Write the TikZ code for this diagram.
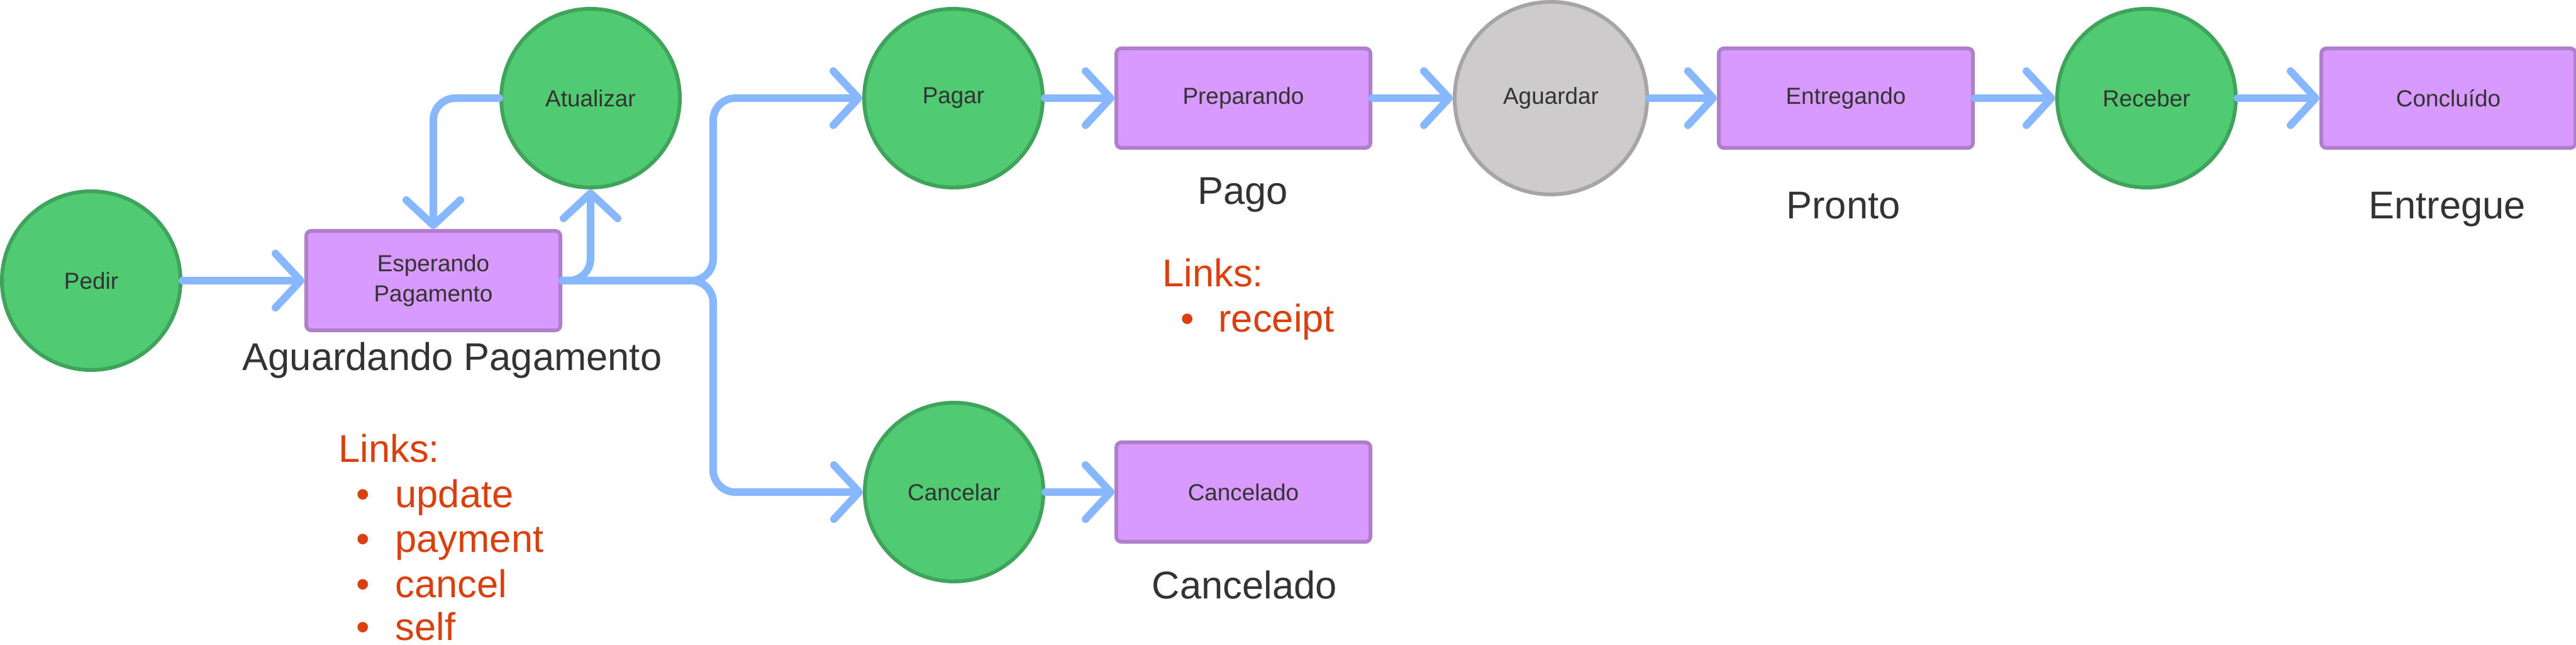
\documentclass[tikz,border=0pt]{standalone}
\usepackage{fontspec}
\setmainfont{Liberation Sans}
\usepackage{tikz}
\usetikzlibrary{arrows.meta}
\definecolor{stategreen}{HTML}{50CB72}
\definecolor{stategreenline}{HTML}{3FA35B}
\definecolor{boxpurple}{HTML}{D89AFE}
\definecolor{boxpurpleline}{HTML}{B07FCC}
\definecolor{waitgray}{HTML}{CDCBCC}
\definecolor{waitgrayline}{HTML}{A6A5A6}
\definecolor{flowblue}{HTML}{87B7FE}
\definecolor{inktext}{HTML}{333333}
\definecolor{linkred}{HTML}{D9400E}
\begin{document}
\begin{tikzpicture}[
    event/.style={circle,fill=stategreen,draw=stategreenline,line width=0.06cm,minimum size=2.84cm,inner sep=0pt,text=inktext,font=\fontsize{10.5pt}{13.4pt}\selectfont},
    waitevent/.style={event,fill=waitgray,draw=waitgrayline,minimum size=3.06cm},
    statebox/.style={rectangle,rounded corners=0.08cm,fill=boxpurple,draw=boxpurpleline,line width=0.06cm,minimum width=4.04cm,minimum height=1.58cm,inner sep=0pt,align=center,text=inktext,font=\fontsize{10.5pt}{13.4pt}\selectfont},
    flow/.style={draw=flowblue,line width=0.12cm,line cap=round,rounded corners=0.35cm,-{Straight Barb[length=0.4cm,width=0.86cm,round]}},
    groupname/.style={anchor=base,text=inktext,font=\fontsize{17.5pt}{21pt}\selectfont},
    linktext/.style={anchor=base west,text=linkred,font=\fontsize{17.5pt}{21pt}\selectfont}]
                \useasboundingbox (0,0) rectangle (40.96,10.25);
                % states and events
                \node[event] (pedir) at (1.45,5.79) {Pedir};
                \node[statebox] (esperando) at (6.89,5.79) {Esperando\\Pagamento};
                \node[event] (atualizar) at (9.39,8.69) {Atualizar};
                \node[event] (pagar) at (15.16,8.69) {Pagar};
                \node[statebox] (preparando) at (19.77,8.69) {Preparando};
                \node[waitevent] (aguardar) at (24.66,8.69) {Aguardar};
                \node[statebox] (entregando) at (29.35,8.69) {Entregando};
                \node[event] (receber) at (34.13,8.69) {Receber};
                \node[statebox] (concluido) at (38.93,8.69) {Concluído};
                \node[event] (cancelar) at (15.17,2.43) {Cancelar};
                \node[statebox] (cancelado) at (19.77,2.43) {Cancelado};
                \coordinate (split) at (11.34,5.79);
                % group names
                \node[groupname] (gaguardando) at (7.19,4.36) {Aguardando Pagamento};
                \node[groupname] (gpago) at (19.76,7.00) {Pago};
                \node[groupname] (gpronto) at (29.31,6.77) {Pronto};
                \node[groupname] (gentregue) at (38.91,6.77) {Entregue};
                \node[groupname] (gcancelado) at (19.79,0.73) {Cancelado};
                % links
                \node[linktext] (links1) at (5.26,2.90) {Links:};
                \foreach \name/\y in {update/2.18,payment/1.47,cancel/0.75,self/0.07} {
                    \node[linktext] (dot-\name) at (5.54,\y) {\textbullet};
                    \node[linktext] (link-\name) at (6.16,\y) {\name};
                }
                \node[linktext] (links2) at (18.36,5.69) {Links:};
                \node[linktext] (dot-receipt) at (18.65,4.97) {\textbullet};
                \node[linktext] (link-receipt) at (19.25,4.97) {receipt};
                % transitions
                \draw[flow] (pedir) -- (esperando);
                \draw[flow] (atualizar.west) -| (esperando.north);
                \draw[flow] (esperando.east) -| (atualizar.south);
                \draw[flow] (esperando.east) -- (split) |- (pagar.west);
                \draw[flow] (esperando.east) -- (split) |- (cancelar.west);
                \foreach \a/\b in {pagar/preparando,preparando/aguardar,aguardar/entregando,entregando/receber,receber/concluido,cancelar/cancelado} {
                    \draw[flow] (\a) -- (\b);
                }
            \end{tikzpicture}
\end{document}
